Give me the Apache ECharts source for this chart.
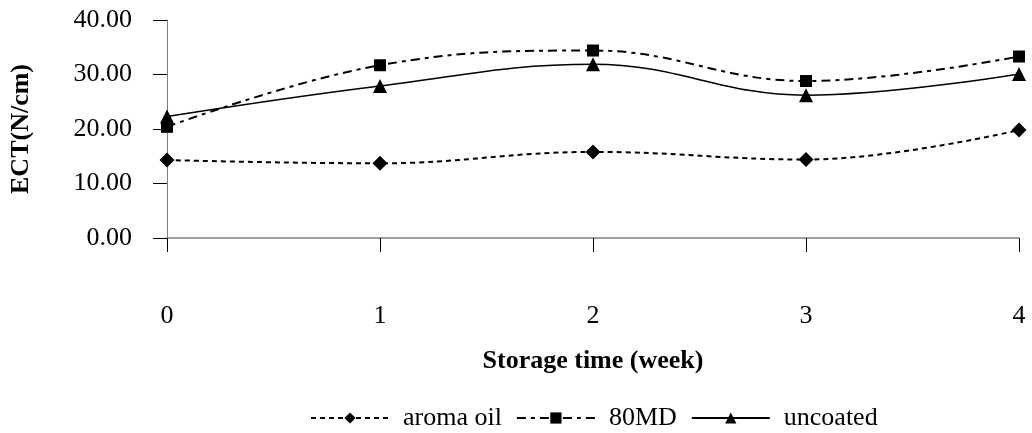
<!DOCTYPE html>
<html>
<head>
<meta charset="utf-8">
<script src="https://cdn.jsdelivr.net/npm/echarts@6/dist/echarts.min.js"></script>
<style>
  html, body { margin: 0; padding: 0; background: #fff; }
  #chart { width: 1032px; height: 433px; }
</style>
</head>
<body>
<div id="chart"></div>
<script>
// Storage time in weeks
const weeks = ['0', '1', '2', '3', '4'];
// ECT values (N/cm) per coating
const aromaOil = [14.3, 13.7, 15.8, 14.4, 19.8];
const md80 = [20.4, 31.7, 34.4, 28.8, 33.3];
const uncoated = [22.3, 27.9, 31.9, 26.2, 30.1];
const seriesNames = ['aroma oil', '80MD', 'uncoated'];

const font = '"Liberation Serif", "Times New Roman", serif';
const chart = echarts.init(document.getElementById('chart'));

function lineSeries(name, data, symbol, size, dash, width) {
  return {
    name: name,
    type: 'line',
    data: data,
    smooth: 0.4,
    symbol: symbol,
    symbolSize: size,
    showAllSymbol: true,
    itemStyle: { color: '#000' },
    lineStyle: { color: '#000', width: width, type: dash },
    emphasis: { disabled: true },
    animation: false
  };
}

chart.setOption({
  backgroundColor: '#fff',
  animation: false,
  grid: { left: 167, right: 13, top: 20, bottom: 195, containLabel: false, outerBoundsMode: 'none' },
  legend: {
    data: seriesNames,
    top: 400,
    left: 305,
    itemWidth: 78,
    itemHeight: 14,
    itemGap: 14,
    textStyle: { fontFamily: font, fontSize: 26, color: '#000', padding: [0, 0, 0, 9] }
  },
  xAxis: {
    type: 'category',
    data: weeks,
    boundaryGap: false,
    name: 'Storage time (week)',
    nameLocation: 'middle',
    nameGap: 110,
    nameTextStyle: { fontFamily: font, fontSize: 26, fontWeight: 'bold', color: '#000' },
    axisLine: { lineStyle: { color: '#808080', width: 1.5 } },
    axisTick: { alignWithLabel: true, length: 14, lineStyle: { color: '#000' } },
    axisLabel: { margin: 65, fontFamily: font, fontSize: 26, color: '#000' },
    splitLine: { show: false }
  },
  yAxis: {
    type: 'value',
    min: 0,
    max: 40,
    interval: 10,
    name: 'ECT(N/cm)',
    nameLocation: 'middle',
    nameGap: 133,
    nameTextStyle: { fontFamily: font, fontSize: 26, fontWeight: 'bold', color: '#000' },
    axisLine: { show: true, lineStyle: { color: '#808080', width: 1 } },
    axisTick: { show: true, length: 14, lineStyle: { color: '#000' } },
    axisLabel: {
      margin: 35,
      fontFamily: font,
      fontSize: 26,
      color: '#000',
      formatter: v => v.toFixed(2)
    },
    splitLine: { show: false }
  },
  series: [
    lineSeries(seriesNames[0], aromaOil, 'diamond', 15, [5, 4], 2),
    lineSeries(seriesNames[1], md80, 'rect', 12, [9, 5, 4, 5], 2),
    lineSeries(seriesNames[2], uncoated, 'triangle', 14, 'solid', 1.5)
  ]
});
</script>
</body>
</html>
